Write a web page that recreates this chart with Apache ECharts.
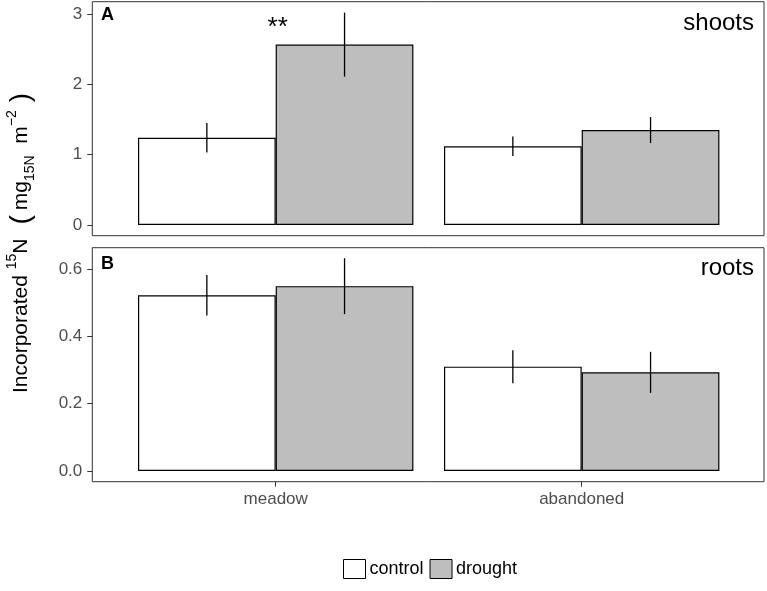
<!DOCTYPE html>
<html>
<head>
<meta charset="utf-8">
<script src="https://cdn.jsdelivr.net/npm/echarts@6/dist/echarts.min.js"></script>
<style>html,body{margin:0;padding:0;background:#fff}#c{width:767px;height:591px}</style>
</head>
<body>
<div id="c"></div>
<script>
// ---- data ----
const categories = ['meadow', 'abandoned'];
const groups = ['control', 'drought'];
const shootsControl = [1.24, 1.12];
const shootsDrought = [2.565, 1.35];
const shootsControlErr = [0.21, 0.14];
const shootsDroughtErr = [0.455, 0.185];
const rootsControl = [0.522, 0.31];
const rootsDrought = [0.549, 0.293];
const rootsControlErr = [0.06, 0.049];
const rootsDroughtErr = [0.083, 0.061];
const shootsTicks = { min: 0, max: 3, interval: 1 };
const rootsTicks = { min: 0, max: 0.6, interval: 0.2 };
const signif = [{ cat: 0, value: 2.80, text: '**' }];

// ---- layout ----
const FONT = '"Liberation Sans", Arial, Helvetica, sans-serif';
const panelLeft = 92.3, panelRight = 767 - 764;
const innerLeft = 122.7, innerRight = 767 - 734.7;
const yOffset = innerLeft - panelLeft;

function errData(ctrl, ctrlE, dr, drE) {
  const out = [];
  for (let i = 0; i < categories.length; i++) {
    out.push([i, 0, ctrl[i] - ctrlE[i], ctrl[i] + ctrlE[i]]);
    out.push([i, 1, dr[i] - drE[i], dr[i] + drE[i]]);
  }
  return out;
}
function errRender(params, api) {
  const cat = api.value(0), grp = api.value(1);
  const band = api.size([1, 0])[0];
  const off = (grp === 0 ? -0.225 : 0.225) * band;
  const p1 = api.coord([cat, api.value(2)]);
  const p2 = api.coord([cat, api.value(3)]);
  return { type: 'line', z2: 10,
    shape: { x1: p1[0] + off, y1: p1[1], x2: p2[0] + off, y2: p2[1] },
    style: { stroke: '#000', lineWidth: 1.3 } };
}
function barSeries(name, data, color, axis) {
  return { type: 'bar', name: name, data: data, xAxisIndex: axis, yAxisIndex: axis,
    barWidth: '45%', barGap: '0%', animation: false,
    itemStyle: { color: color, borderColor: '#000', borderWidth: 1.2 } };
}
const hiddenAxis = (i, t) => ({ type: t, gridIndex: i, show: false, min: 0, max: 1 });
const tickStyle = { show: true, length: 5, lineStyle: { color: '#333', width: 1 } };
const labelStyle = { color: '#4d4d4d', fontSize: 17, fontFamily: FONT };

const option = {
  animation: false,
  backgroundColor: '#fff',
  grid: [
    { left: panelLeft, right: panelRight, top: 1.7, height: 234, show: true, borderColor: '#333', borderWidth: 1, backgroundColor: 'transparent' },
    { left: innerLeft, right: innerRight, top: 14, height: 211 },
    { left: panelLeft, right: panelRight, top: 247.7, height: 234, show: true, borderColor: '#333', borderWidth: 1, backgroundColor: 'transparent' },
    { left: innerLeft, right: innerRight, top: 269, height: 202 },
    { left: innerLeft, right: innerRight, top: 247.7, height: 234 }
  ],
  xAxis: [
    hiddenAxis(0, 'value'),
    { type: 'category', gridIndex: 1, data: categories, show: false },
    hiddenAxis(2, 'value'),
    { type: 'category', gridIndex: 3, data: categories, show: false },
    { type: 'category', gridIndex: 4, data: categories, position: 'bottom',
      axisLine: { show: false, onZero: false }, axisTick: Object.assign({ alignWithLabel: true }, tickStyle),
      axisLabel: Object.assign({ margin: 9 }, labelStyle), splitLine: { show: false } }
  ],
  yAxis: [
    hiddenAxis(0, 'value'),
    { type: 'value', gridIndex: 1, min: shootsTicks.min, max: shootsTicks.max, interval: shootsTicks.interval,
      offset: yOffset, axisLine: { show: false, onZero: false }, axisTick: tickStyle,
      axisLabel: Object.assign({ margin: 10 }, labelStyle), splitLine: { show: false } },
    hiddenAxis(2, 'value'),
    { type: 'value', gridIndex: 3, min: rootsTicks.min, max: rootsTicks.max, interval: rootsTicks.interval,
      offset: yOffset, axisLine: { show: false, onZero: false }, axisTick: tickStyle,
      axisLabel: Object.assign({ margin: 10, formatter: v => v.toFixed(1) }, labelStyle), splitLine: { show: false } },
    hiddenAxis(4, 'value')
  ],
  legend: {
    data: groups, left: 343, top: 559, orient: 'horizontal', padding: 0,
    itemWidth: 22, itemHeight: 19, itemGap: 6, icon: 'rect',
    itemStyle: { borderColor: '#000', borderWidth: 1 },
    textStyle: { fontSize: 18, color: '#000', fontFamily: FONT, padding: [0, 0, 0, -1] }
  },
  graphic: [
    { type: 'text', x: 101, y: 15, style: { text: 'A', fontSize: 18, fontWeight: 'bold', fontFamily: FONT, fill: '#000', verticalAlign: 'middle', align: 'left' } },
    { type: 'text', x: 101, y: 264, style: { text: 'B', fontSize: 18, fontWeight: 'bold', fontFamily: FONT, fill: '#000', verticalAlign: 'middle', align: 'left' } },
    { type: 'text', x: 754, y: 23, style: { text: 'shoots', fontSize: 24, fontFamily: FONT, fill: '#000', verticalAlign: 'middle', align: 'right' } },
    { type: 'text', x: 754, y: 268, style: { text: 'roots', fontSize: 24, fontFamily: FONT, fill: '#000', verticalAlign: 'middle', align: 'right' } },
    { type: 'text', x: 21, y: 243, rotation: Math.PI / 2,
      style: {
        text: 'Incorporated {sup|15}N{lp|(}mg{sub|15N}  m{sup|\u22122}{rp|)}',
        fontSize: 21, fontFamily: FONT, fill: '#000', align: 'center', verticalAlign: 'middle',
        lineHeight: 32,
        rich: {
          sup: { fontSize: 14, fontFamily: FONT, fill: '#000', verticalAlign: 'top', lineHeight: 14 },
          sub: { fontSize: 14, fontFamily: FONT, fill: '#000', verticalAlign: 'bottom', lineHeight: 14 },
          lp: { fontSize: 28, fontFamily: FONT, fill: '#000', lineHeight: 32, padding: [0, 5, 0, 14] },
          rp: { fontSize: 28, fontFamily: FONT, fill: '#000', lineHeight: 32, padding: [0, 0, 0, 8] }
        }
      } }
  ],
  series: [
    barSeries('control', shootsControl, '#ffffff', 1),
    barSeries('drought', shootsDrought, '#bebebe', 1),
    { type: 'custom', name: 'errA', xAxisIndex: 1, yAxisIndex: 1, z: 3, renderItem: errRender,
      encode: { x: 0, y: [2, 3] }, data: errData(shootsControl, shootsControlErr, shootsDrought, shootsDroughtErr) },
    { type: 'custom', name: 'signif', xAxisIndex: 1, yAxisIndex: 1, z: 3,
      encode: { x: 0, y: 1 },
      data: signif.map(s => [s.cat, s.value]),
      renderItem: function (params, api) {
        const p = api.coord([api.value(0), api.value(1)]);
        return { type: 'text', x: p[0] + 2, y: p[1],
          style: { text: signif[params.dataIndex].text, fontSize: 26, fontFamily: FONT, fill: '#000', align: 'center', verticalAlign: 'middle' } };
      } },
    barSeries('control', rootsControl, '#ffffff', 3),
    barSeries('drought', rootsDrought, '#bebebe', 3),
    { type: 'custom', name: 'errB', xAxisIndex: 3, yAxisIndex: 3, z: 3, renderItem: errRender,
      encode: { x: 0, y: [2, 3] }, data: errData(rootsControl, rootsControlErr, rootsDrought, rootsDroughtErr) }
  ]
};
const chart = echarts.init(document.getElementById('c'), null, { renderer: 'canvas' });
chart.setOption(option);
</script>
</body>
</html>
